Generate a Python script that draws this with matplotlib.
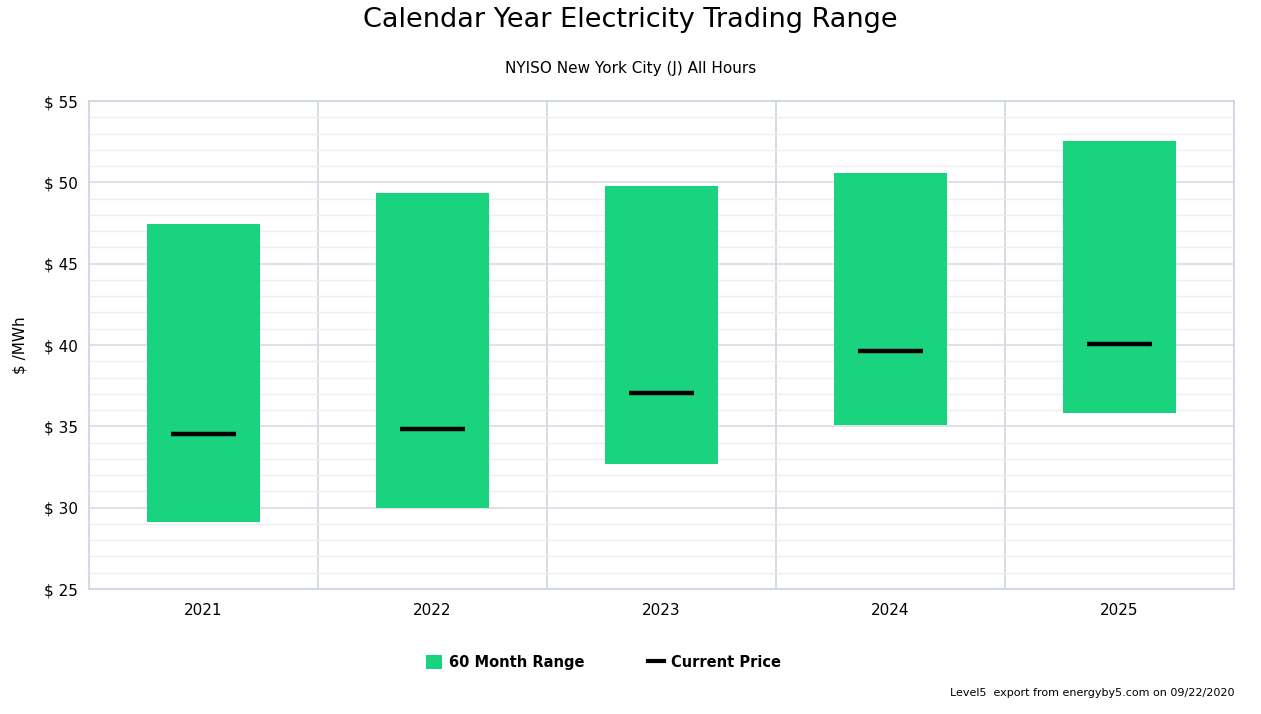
import numpy as np
import matplotlib
matplotlib.use("Agg")
import matplotlib.pyplot as plt
from matplotlib.patches import Patch
from matplotlib.lines import Line2D

# Data
years = ["2021", "2022", "2023", "2024", "2025"]
range_low = [29.12, 29.99, 32.69, 35.09, 35.82]
range_high = [47.44, 49.35, 49.78, 50.57, 52.54]
current_price = [34.53, 34.84, 37.05, 39.63, 40.06]

bar_color = "#19d37e"
plt.rcParams['font.family'] = ['DejaVu Sans']

fig = plt.figure(figsize=(12.61, 7.14), dpi=100)
ax = fig.add_axes([89 / 1261, 125 / 714, 1145 / 1261, 488 / 714])

x = np.arange(len(years))
heights = np.array(range_high) - np.array(range_low)
ax.bar(x, heights, bottom=range_low, width=0.49, color=bar_color, zorder=3)
ax.hlines(current_price, x - 0.14, x + 0.14, color="black", linewidth=3.2, zorder=4)

ax.set_xlim(-0.5, len(years) - 0.5)
ax.set_ylim(25, 55)
ax.set_xticks(x)
ax.set_xticklabels(years, fontsize=11)
ax.set_yticks(np.arange(25, 56, 5))
ax.set_yticklabels([f"$ {v}" for v in range(25, 56, 5)], fontsize=11)
ax.set_yticks(np.arange(25, 56, 1), minor=True)
ax.set_xticks(np.arange(len(years) + 1) - 0.5, minor=True)

ax.grid(which="major", axis="y", color="#d8dce3", linewidth=1.2, zorder=0)
ax.grid(which="minor", axis="y", color="#eceef1", linewidth=1, zorder=0)
ax.grid(which="minor", axis="x", color="#d3d8df", linewidth=1.3, zorder=0)
ax.tick_params(which="both", length=0, pad=10)
ax.tick_params(axis="y", pad=8)
for spine in ax.spines.values():
    spine.set_color("#ccd6e3")
    spine.set_linewidth(1.2)

ax.set_ylabel("$ /MWh", fontsize=11, labelpad=12)

fig.text(0.5, 0.972, "Calendar Year Electricity Trading Range", ha="center", va="center", fontsize=19.5)
fig.text(0.5, 0.904, "NYISO New York City (J) All Hours", ha="center", va="center", fontsize=11)

handles = [Patch(facecolor=bar_color, label="60 Month Range"),
           Line2D([0], [0], color="black", linewidth=3, label="Current Price")]
fig.legend(handles=handles, loc="center", bbox_to_anchor=(0.4786, 0.072), ncol=2,
           frameon=False, prop={"size": 10.5, "weight": "bold"}, handlelength=1.1,
           handleheight=1.1, columnspacing=4.3, handletextpad=0.5)

fig.text(0.979, 0.029, "Level5  export from energyby5.com on 09/22/2020", ha="right",
         va="center", fontsize=8)

fig.savefig("out.png", dpi=100)
